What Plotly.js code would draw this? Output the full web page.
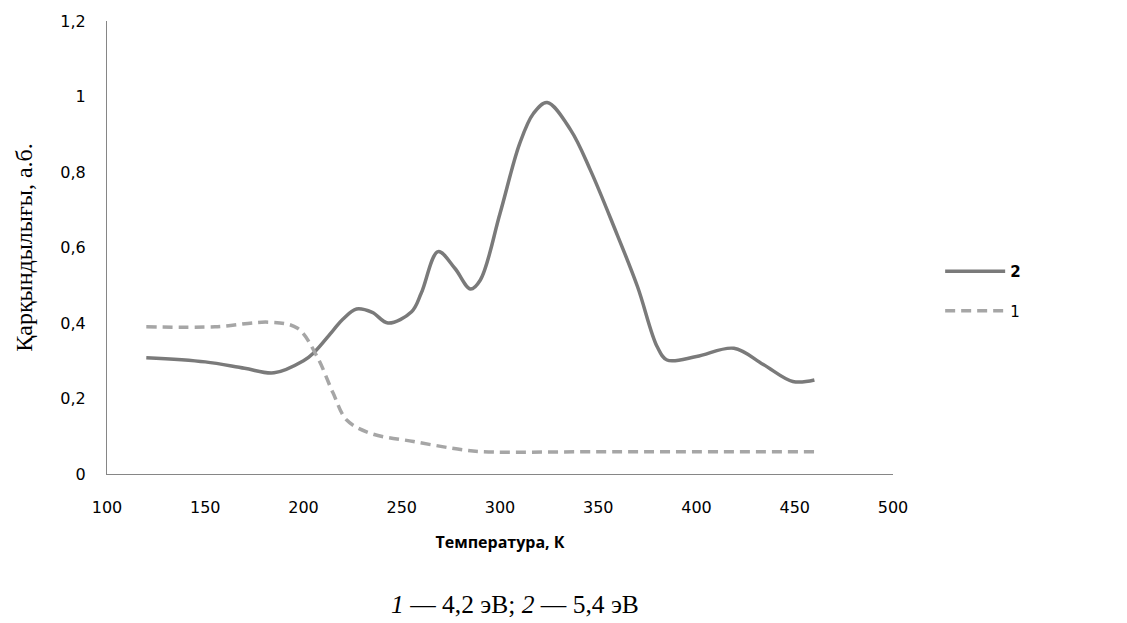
<!DOCTYPE html>
<html>
<head>
<meta charset="utf-8">
<script src="https://cdn.plot.ly/plotly-3.0.1.min.js"></script>
<style>html,body{margin:0;padding:0;background:#fff;}#chart{width:1127px;height:623px;}</style>
</head>
<body>
<div id="chart"></div>
<script>
// Series 2 (5,4 эВ) – solid
const temp2 = [120,150,170,185,200,205,215,220,227,235,243,255,260,268.5,277,285,290,300,310,317,324,336,346,358,370,380,385,400,419,434,449,460];
const int2  = [0.308,0.297,0.280,0.268,0.300,0.320,0.380,0.410,0.437,0.428,0.400,0.430,0.480,0.589,0.545,0.490,0.514,0.690,0.875,0.955,0.984,0.911,0.805,0.655,0.496,0.337,0.302,0.311,0.333,0.290,0.245,0.249];
// Series 1 (4,2 эВ) – dashed
const temp1 = [120,155,183,197,207,215,222,234,256,281,291,350,400,460];
const int1  = [0.390,0.390,0.402,0.386,0.310,0.215,0.143,0.108,0.086,0.064,0.059,0.059,0.059,0.059];

const names = ['<b>2</b>', '1'];
const xTicks = [100,150,200,250,300,350,400,450,500];
const yTicks = [0,0.2,0.4,0.6,0.8,1,1.2];

const traces = [
  {x: temp2, y: int2, name: names[0], type:'scatter', mode:'lines', legendgroup:'a',
   line:{color:'#7a7a7a', width:3.5, shape:'spline', smoothing:1}},
  {x: temp1, y: int1, name: names[1], type:'scatter', mode:'lines', legendgroup:'b',
   line:{color:'#a6a6a6', width:3.5, shape:'spline', smoothing:1, dash:'10px,6px'}}
];

const serif = '"Liberation Serif", "DejaVu Serif", serif';
const sans = '"DejaVu Sans", "Open Sans", sans-serif';

const layout = {
  width:1127, height:623,
  paper_bgcolor:'#fff', plot_bgcolor:'#fff',
  separators:', ',
  margin:{l:107, r:234, t:21, b:149},
  font:{family:sans, size:16, color:'#000'},
  showlegend:true,
  legend:{x:1.06, y:0.404, xanchor:'left', yanchor:'middle', traceorder:'grouped', tracegroupgap:17,
          itemwidth:60, font:{size:15, color:'#000'}, bgcolor:'rgba(0,0,0,0)'},
  xaxis:{range:[100,500], tickvals:xTicks, showgrid:false, zeroline:false, showline:true,
         linecolor:'#868686', linewidth:1, ticks:'', ticklabelstandoff:19,
         tickfont:{size:16}, automargin:false,
         title:{text:'<b>Температура, К</b>', font:{family:'"Open Sans", sans-serif', size:16}, standoff:20}},
  yaxis:{range:[0,1.2], tickvals:yTicks, showgrid:false, zeroline:false, showline:true,
         linecolor:'#868686', linewidth:1, ticks:'', ticklabelstandoff:17,
         tickfont:{size:16}, automargin:false,
         title:{text:'Қарқындылығы, а.б.', font:{family:serif, size:24}, standoff:20}},
  annotations:[
    {text:'<i>1</i> — 4,2 эВ; <i>2</i> — 5,4 эВ', xref:'paper', yref:'paper', x:0.5196, y:-0.288,
     xanchor:'center', yanchor:'middle', showarrow:false,
     font:{family:serif, size:25.5, color:'#000'}}
  ]
};

Plotly.newPlot('chart', traces, layout, {displayModeBar:false, staticPlot:true});
</script>
</body>
</html>
